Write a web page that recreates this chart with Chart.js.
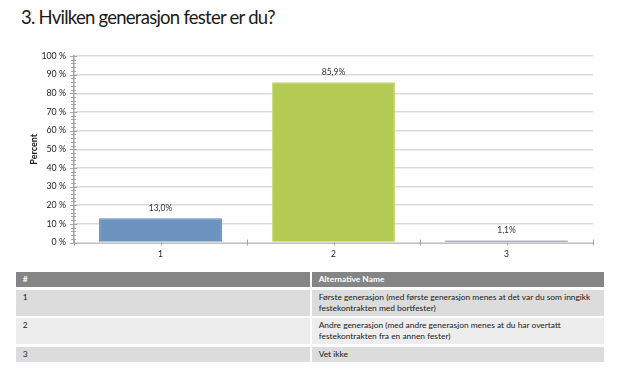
<!DOCTYPE html>
<html>
<head>
<meta charset="utf-8">
<script src="https://cdn.jsdelivr.net/npm/chart.js@4"></script>
<style>
  html, body { margin: 0; padding: 0; background: #fff; }
  body { width: 620px; height: 385px; position: relative; overflow: hidden; font-family: Lato, "Open Sans", sans-serif; }
  #title { position: absolute; left: 21px; top: 6px; font-size: 18.5px; color: #1a1a1a; white-space: nowrap; letter-spacing: -0.75px; }
  #wrap { position: absolute; left: 0; top: 0; width: 620px; height: 268px; }
  .cell { position: absolute; box-sizing: border-box; font-size: 8.4px; color: #1a1a1a; padding-left: 7px; line-height: 11px; }
  .hd { background: #858585; color: #fff; font-weight: bold; }
  .odd { background: #dcdcdc; }
  .even { background: #ededed; }
</style>
</head>
<body>
<div id="title">3. Hvilken generasjon fester er du?</div>
<div id="wrap"><canvas id="c" width="620" height="268"></canvas></div>
<div id="table"></div>
<script>
const categories = ["1", "2", "3"];
const percentValues = [13.0, 85.9, 1.1];
const valueLabels = ["13,0%", "85,9%", "1,1%"];
const yTickValues = [0, 10, 20, 30, 40, 50, 60, 70, 80, 90, 100];
const tableHeader = ["#", "Alternative Name"];
const alternativeNames = [
  ["Første generasjon (med første generasjon menes at det var du som inngikk", "festekontrakten med bortfester)"],
  ["Andre generasjon (med andre generasjon menes at du har overtatt", "festekontrakten fra en annen fester)"],
  ["Vet ikke"]
];

const barColors = ["#6d93bf", "#b3cb53", "#6c6f88"];
const barBorders = ["#5a81b0", "#c3d66c", "#6c6f88"];

const axisTicksPlugin = {
  id: 'axisTicks',
  afterDraw(chart) {
    const ctx = chart.ctx;
    const y = chart.scales.y, x = chart.scales.x;
    const ax = chart.chartArea.left;
    ctx.save();
    ctx.strokeStyle = '#a3a3a3';
    ctx.lineWidth = 1;
    for (let v = 0; v <= 100; v += 2) {
      const py = Math.round(y.getPixelForValue(v)) + 0.5;
      const major = v % 10 === 0;
      ctx.beginPath();
      ctx.moveTo(ax - (major ? 4 : 3), py);
      ctx.lineTo(ax + (major ? 3 : 2), py);
      ctx.stroke();
    }
    const by = chart.chartArea.bottom;
    const n = categories.length;
    for (let i = 0; i <= n; i++) {
      const px = Math.round(x.getPixelForValue(i - 0.5)) + 0.5;
      ctx.beginPath();
      ctx.moveTo(px, by - 3);
      ctx.lineTo(px, by + 3);
      ctx.stroke();
    }
    for (let i = 0; i < n; i++) {
      const px = Math.round(x.getPixelForValue(i)) + 0.5;
      ctx.beginPath();
      ctx.moveTo(px, by);
      ctx.lineTo(px, by + 3);
      ctx.stroke();
    }
    ctx.restore();
  }
};

const valueLabelPlugin = {
  id: 'valueLabels',
  afterDatasetsDraw(chart) {
    const ctx = chart.ctx;
    const meta = chart.getDatasetMeta(0);
    ctx.save();
    ctx.font = '8.5px Lato, sans-serif';
    ctx.fillStyle = '#333';
    ctx.textAlign = 'center';
    ctx.textBaseline = 'middle';
    meta.data.forEach((bar, i) => {
      ctx.fillText(valueLabels[i], bar.x, bar.y - 10);
    });
    ctx.restore();
  }
};

new Chart(document.getElementById('c'), {
  type: 'bar',
  data: {
    labels: categories,
    datasets: [{
      data: percentValues,
      backgroundColor: barColors,
      borderColor: barBorders,
      borderWidth: 1,
      categoryPercentage: 0.71,
      barPercentage: 1.0
    }]
  },
  options: {
    responsive: false,
    animation: false,
    events: [],
    layout: { padding: { top: 56, right: 27, left: 0, bottom: 0 } },
    plugins: { legend: { display: false }, tooltip: { enabled: false }, title: { display: false } },
    scales: {
      x: {
        offset: true,
        grid: { display: false, drawTicks: false },
        border: { display: true, color: '#a6a6a6', width: 2, z: -1 },
        ticks: { font: { size: 8.5, family: 'Lato' }, color: '#222', padding: 7 },
        afterFit(s) { s.height = 268 - 242.5; }
      },
      y: {
        min: 0, max: 100,
        afterBuildTicks(s) { s.ticks = yTickValues.map(v => ({ value: v })); },
        grid: { color: '#dadada', lineWidth: 1.5, drawTicks: false },
        border: { display: true, color: '#a6a6a6', width: 1.5 },
        ticks: { font: { size: 8.8, family: 'Lato' }, color: '#222', padding: 8, callback: v => v + ' %' },
        title: { display: true, text: 'Percent', font: { size: 9, weight: 'bold', family: 'Lato' }, color: '#222', padding: { top: 29, bottom: 0 } },
        afterFit(s) { s.width = 74; }
      }
    }
  },
  plugins: [axisTicksPlugin, valueLabelPlugin]
});

// table
const tbl = document.getElementById('table');
const rowsGeom = [[271.7, 15], [290, 26], [318, 26.3], [346.7, 15.3]];
const cols = [[15.7, 294.3], [311.7, 292.6]];
function addCell(top, h, col, lines, cls) {
  const d = document.createElement('div');
  d.className = 'cell ' + cls;
  d.style.top = top + 'px';
  d.style.height = h + 'px';
  d.style.left = cols[col][0] + 'px';
  d.style.width = cols[col][1] + 'px';
  d.style.paddingTop = '2px';
  d.innerHTML = lines.join('<br>');
  tbl.appendChild(d);
}
addCell(rowsGeom[0][0], rowsGeom[0][1], 0, [tableHeader[0]], 'hd');
addCell(rowsGeom[0][0], rowsGeom[0][1], 1, [tableHeader[1]], 'hd');
alternativeNames.forEach((names, i) => {
  const g = rowsGeom[i + 1];
  const cls = i % 2 === 0 ? 'odd' : 'even';
  addCell(g[0], g[1], 0, [categories[i]], cls);
  addCell(g[0], g[1], 1, names, cls);
});
</script>
</body>
</html>
